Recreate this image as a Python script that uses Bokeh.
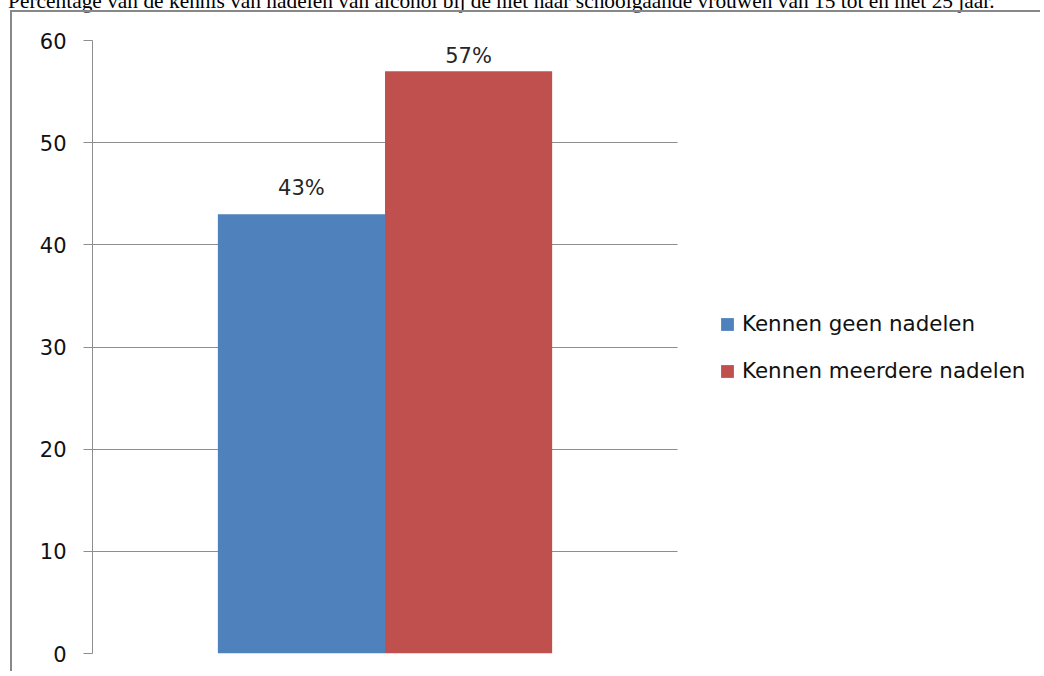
from bokeh.plotting import figure
from bokeh.layouts import column
from bokeh.models import (Range1d, ColumnDataSource, LabelSet, Legend,
                          LegendItem, FixedTicker, Div)
from bokeh.core.properties import value
from bokeh.embed import file_html
from bokeh.resources import INLINE

# ---- data ----
title_text = ("Percentage van de kennis van nadelen van alcohol bij de niet naar "
              "schoolgaande vrouwen van 15 tot en met 25 jaar.")
categories = ["Kennen geen nadelen", "Kennen meerdere nadelen"]
values = [43, 57]
value_labels = ["43%", "57%"]
y_ticks = [0, 10, 20, 30, 40, 50, 60]

# ---- style ----
colors = ["#4F81BD", "#C0504D"]
label_offsets = [19, 8]
gap_width = 0.75
OX, OY = 12, 13                 # canvas origin on the page
CW, CH = 1030, 661              # canvas size
FL, FR, FT, FB = 92, 677, 41, 654   # plot-area edges on the page
GRID = "#8E8E8E"
FONT = "DejaVu Sans"

n = len(categories)
bar_w = 1.0 / (1.0 + gap_width) / n
xs = [0.5 + (i - (n - 1) / 2.0) * bar_w for i in range(n)]

# the frame reaches the right edge (legend lives there); the category
# area [0, 1] covers the plot area FL..FR
x_end = (OX + CW - FL) / float(FR - FL)

src = ColumnDataSource(dict(x=xs, value=values, label=value_labels,
                            color=colors, cat=categories, yoff=label_offsets))

p = figure(width=CW, height=CH, output_backend="svg", toolbar_location=None,
           x_range=Range1d(0, x_end), y_range=Range1d(0, 60),
           min_border_left=FL - OX, min_border_right=0,
           min_border_top=FT - OY, min_border_bottom=CH - (FB - OY))
p.styles = {"margin-left": "10px", "margin-top": "-8px",
            "border-left": "2px solid #888888",
            "border-top": "2px solid #888888"}
p.outline_line_color = None
p.background_fill_color = "white"
p.border_fill_color = "white"

r = p.vbar(x="x", top="value", bottom=0, width=bar_w, fill_color="color",
           line_color=None, source=src)

p.xaxis.visible = False
p.xgrid.visible = False
p.yaxis.ticker = FixedTicker(ticks=y_ticks)
p.ygrid.ticker = FixedTicker(ticks=y_ticks)
p.ygrid.cross_bounds = (0, 1)
p.ygrid.grid_line_color = GRID
p.ygrid.grid_line_width = 1
p.yaxis.axis_line_color = GRID
p.yaxis.major_tick_line_color = GRID
p.yaxis.major_tick_out = 9
p.yaxis.major_tick_in = 0
p.yaxis.minor_tick_line_color = None
p.yaxis.major_label_text_font = FONT
p.yaxis.major_label_text_font_size = "21px"
p.yaxis.major_label_text_color = "#111111"
p.yaxis.major_label_standoff = 17

labels = LabelSet(x="x", y="value", text="label", y_offset="yoff", source=src,
                  text_align="center", text_baseline="alphabetic",
                  text_font=value(FONT), text_font_size="21px",
                  text_color="#262626")
p.add_layout(labels)

legend = Legend(items=[LegendItem(label=c, renderers=[r], index=i)
                       for i, c in enumerate(categories)],
                location=(627, 270), orientation="vertical",
                glyph_width=16, glyph_height=16, label_standoff=7,
                label_height=25, spacing=22, padding=0, margin=0,
                border_line_color=None, background_fill_alpha=0,
                label_text_font=FONT, label_text_font_size="21.4px",
                label_text_color="#111111")
p.add_layout(legend)

title_div = Div(text=title_text, width=1036, height=24,
                styles={"font-family": "'Liberation Serif', serif",
                        "font-size": "21.4px", "line-height": "24px",
                        "white-space": "nowrap", "color": "black",
                        "margin-top": "-11px", "margin-left": "8px"})

layout = column(title_div, p)

open("out.html", "w").write(file_html(layout, INLINE))
